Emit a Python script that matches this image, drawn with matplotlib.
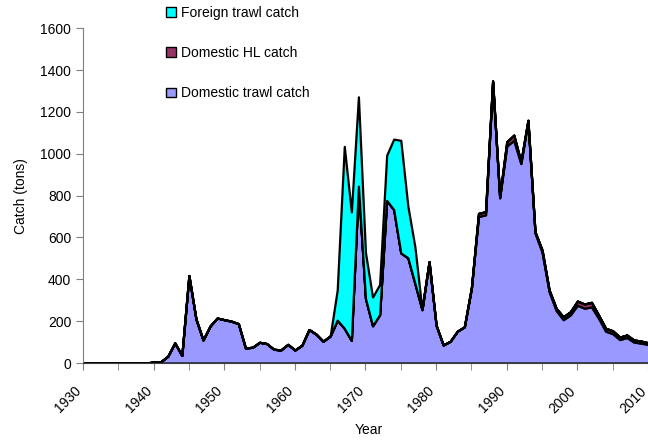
import matplotlib
matplotlib.use('Agg')
import matplotlib.pyplot as plt
import matplotlib.transforms as mtransforms
from matplotlib.patches import Patch
import numpy as np

plt.rcParams['font.family'] = ['Liberation Sans', 'DejaVu Sans']

years = list(range(1930, 2012))

# domestic trawl catch (tons), 1930-2011
domestic_trawl = [
    0, 0, 0, 0, 0, 0, 0, 0, 0, 0,                       # 1930s
    5, 6, 32, 96, 36, 418, 210, 110, 177, 215,          # 1940s
    207, 200, 188, 72, 75, 99, 93, 66, 62, 89,          # 1950s
    62, 85, 160, 138, 104, 129, 205, 166, 108, 845,     # 1960s
    309, 178, 231, 777, 733, 526, 503, 380, 255, 484,   # 1970s
    180, 86, 104, 152, 173, 360, 700, 708, 1343, 789,   # 1980s
    1037, 1064, 953, 1155, 622, 530, 341, 251, 207, 230,  # 1990s
    276, 262, 268, 214, 152, 140, 112, 122, 100, 95,    # 2000s
    89, 82,
]

# domestic hook-and-line catch (tons)
domestic_hl = [0] * 56 + [
    15, 15, 5, 5,                                       # 1986-1989
    20, 25, 8, 5, 5, 10, 8, 10, 14, 15,                 # 1990s
    20, 20, 22, 15, 14, 14, 12, 12, 10, 10,             # 2000s
    8, 8,
]

# foreign trawl catch (tons)
foreign_trawl = [0] * 36 + [
    144, 869, 614, 427,                                 # 1966-1969
    219, 137, 144, 216, 337, 538, 247, 175, 0, 0,       # 1970s
] + [0] * 32

series_labels = ['Domestic trawl catch', 'Domestic HL catch', 'Foreign trawl catch']
series_colors = ['#9999FF', '#993366', '#00FFFF']

fig = plt.figure(figsize=(6.48, 4.40), dpi=100)
ax = fig.add_axes([0.128, 0.175, 0.872, 0.761])

ax.stackplot(years, domestic_trawl, domestic_hl, foreign_trawl,
             colors=series_colors, edgecolor='black', linewidth=1.6)

ax.set_xlim(1930, 2009.7)
ax.set_ylim(0, 1600)
ax.set_yticks(np.arange(0, 1601, 200))
ax.set_xticks(np.arange(1930, 2011, 10))
ax.set_xticks(np.arange(1935, 2011, 10), minor=True)

for s in ['top', 'right']:
    ax.spines[s].set_visible(False)
ax.spines['left'].set_color('#808080')
ax.spines['bottom'].set_color('#404040')
ax.tick_params(axis='both', which='both', direction='out', length=5,
               color='#808080', labelsize=10, labelcolor='black')

# rotated year labels, nudged left/down like the original
shift = mtransforms.ScaledTranslation(-0.09, -0.09, fig.dpi_scale_trans)
for lbl in ax.get_xticklabels():
    lbl.set_rotation(45)
    lbl.set_ha('right')
    lbl.set_rotation_mode('anchor')
    lbl.set_transform(lbl.get_transform() + shift)

ax.set_xlabel('Year', fontsize=10)
ax.xaxis.set_label_coords(0.505, -0.18)
ax.set_ylabel('Catch (tons)', fontsize=10, labelpad=9)

handles = [Patch(facecolor=c, edgecolor='black', linewidth=1.0)
           for c in series_colors[::-1]]
fig.legend(handles, series_labels[::-1], loc='upper left',
           bbox_to_anchor=(0.256, 0.987), frameon=False, fontsize=10,
           handlelength=0.7, handleheight=0.7, handletextpad=0.4,
           labelspacing=1.9, borderpad=0, borderaxespad=0)

fig.savefig('out.png', dpi=100)
